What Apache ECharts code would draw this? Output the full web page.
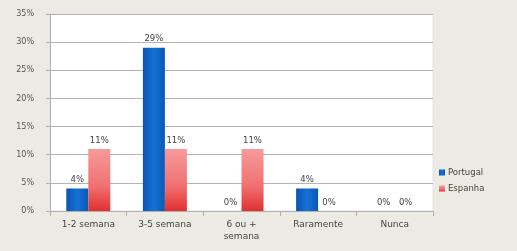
<!DOCTYPE html>
<html>
<head>
<meta charset="utf-8">
<script src="https://cdn.jsdelivr.net/npm/echarts@6/dist/echarts.min.js"></script>
<style>
  html, body { margin: 0; padding: 0; background: #ecebe3; }
  #chart { width: 517px; height: 251px; }
</style>
</head>
<body>
<div id="chart"></div>
<script>
    const categories = ['1-2 semana', '3-5 semana', '6 ou +\nsemana', 'Raramente', 'Nunca'];
    const portugal = [4, 29, 0, 4, 0];
    const espanha = [11, 11, 11, 0, 0];
    const yTicks = [0, 5, 10, 15, 20, 25, 30, 35];

    const chart = echarts.init(document.getElementById('chart'));

    const labelStyle = {
        show: true,
        position: 'top',
        distance: 4,
        formatter: '{c}%',
        color: '#444',
        fontSize: 8.5,
        fontFamily: 'DejaVu Sans'
    };

    chart.setOption({
        backgroundColor: '#ecebe3',
        animation: false,
        grid: {
            left: 50,
            right: 84,
            top: 14,
            bottom: 40,
            show: true,
            backgroundColor: '#ffffff',
            borderColor: '#e4e4e4'
        },
        legend: {
            orient: 'vertical',
            left: 434,
            top: 163,
            itemWidth: 6,
            itemHeight: 6,
            itemGap: 7,
            icon: 'rect',
            textStyle: { color: '#444', fontSize: 8.5, fontFamily: 'DejaVu Sans', padding: [0, 0, 0, -2] },
            data: ['Portugal', 'Espanha']
        },
        xAxis: {
            type: 'category',
            data: categories,
            axisLine: { lineStyle: { color: '#b0b0b0' } },
            axisTick: { show: true, lineStyle: { color: '#b0b0b0' } },
            axisLabel: { color: '#444', fontSize: 9, fontFamily: 'DejaVu Sans', margin: 8, lineHeight: 12, interval: 0 }
        },
        yAxis: {
            type: 'value',
            min: yTicks[0],
            max: yTicks[yTicks.length - 1],
            interval: 5,
            axisLine: { show: true, lineStyle: { color: '#b0b0b0' } },
            axisTick: { show: true, length: 4, lineStyle: { color: '#b0b0b0' } },
            axisLabel: { color: '#555', fontSize: 8, fontFamily: 'DejaVu Sans', margin: 16, formatter: '{value}%' },
            splitLine: { lineStyle: { color: '#b4b4b4' } }
        },
        series: [
            {
                name: 'Portugal',
                type: 'bar',
                data: portugal,
                barWidth: 22,
                barGap: '0%',
                itemStyle: {
                    color: new echarts.graphic.LinearGradient(0, 0, 1, 0, [
                        { offset: 0, color: '#0a55b0' },
                        { offset: 0.5, color: '#1671d6' },
                        { offset: 1, color: '#0a58b5' }
                    ])
                },
                label: labelStyle
            },
            {
                name: 'Espanha',
                type: 'bar',
                data: espanha,
                barWidth: 22,
                itemStyle: {
                    color: new echarts.graphic.LinearGradient(0, 0, 0, 1, [
                        { offset: 0, color: '#f89a9a' },
                        { offset: 0.6, color: '#f07070' },
                        { offset: 1, color: '#e03030' }
                    ])
                },
                label: labelStyle
            }
        ]
    });
</script>
</body>
</html>
